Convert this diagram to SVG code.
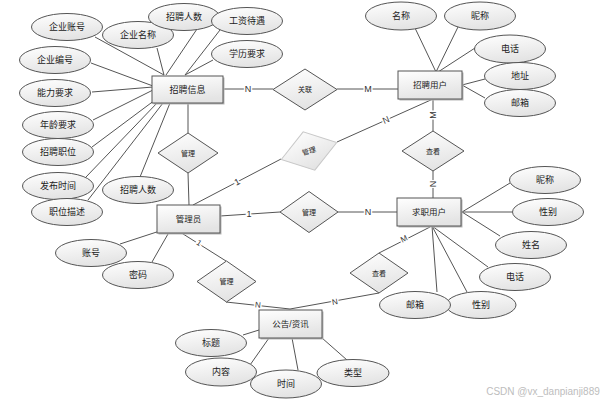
<svg xmlns="http://www.w3.org/2000/svg" width="612" height="402" viewBox="0 0 612 402">
<defs>
<linearGradient id="g" x1="0" y1="0" x2="0.3" y2="1">
<stop offset="0" stop-color="#ffffff"/>
<stop offset="1" stop-color="#e4e4e4"/>
</linearGradient>
<style>
text{font-family:"Liberation Sans","Noto Sans CJK SC",sans-serif;fill:#222;text-anchor:middle;dominant-baseline:central}
.e ellipse{fill:url(#g);stroke:#555;stroke-width:1}
.e text{font-size:9px}
.r rect.b{fill:url(#g);stroke:#555;stroke-width:1}
.r rect.s{fill:#b8b8b8}
.r text{font-size:8.5px}
.d polygon{fill:url(#g);stroke:#555;stroke-width:1}
.d text{font-size:7px}
.lt polygon{stroke:#c8c8c8}
#connectors line{stroke:#555;stroke-width:1}
.lb{font-size:9px;fill:#333;stroke:#fff;stroke-width:3;paint-order:stroke}
</style>
</defs>
<rect width="612" height="402" fill="#fff"/>
<g id="connectors">
<line x1="95" y1="37" x2="164" y2="75"/>
<line x1="157" y1="48" x2="164" y2="75"/>
<line x1="197" y1="29" x2="166" y2="75"/>
<line x1="220" y1="30" x2="185" y2="75"/>
<line x1="213" y1="60" x2="185" y2="75"/>
<line x1="91" y1="63" x2="153" y2="86"/>
<line x1="92" y1="92" x2="153" y2="87"/>
<line x1="93" y1="120" x2="153" y2="90"/>
<line x1="92" y1="147" x2="155" y2="100"/>
<line x1="86" y1="177" x2="158" y2="102"/>
<line x1="88" y1="200" x2="163" y2="103"/>
<line x1="140" y1="177" x2="170" y2="103"/>
<line x1="188" y1="103" x2="188" y2="133"/>
<line x1="188" y1="173" x2="189" y2="205"/>
<line x1="223" y1="89" x2="273" y2="89"/>
<line x1="337" y1="89" x2="398" y2="89"/>
<line x1="415" y1="28" x2="436" y2="72"/>
<line x1="458" y1="27" x2="436" y2="72"/>
<line x1="475" y1="48" x2="438" y2="72"/>
<line x1="485" y1="79" x2="462" y2="85"/>
<line x1="485" y1="98" x2="462" y2="85"/>
<line x1="433" y1="99" x2="433" y2="131"/>
<line x1="433" y1="171" x2="433" y2="198"/>
<line x1="193" y1="205" x2="281" y2="159"/>
<line x1="337" y1="142" x2="433" y2="99"/>
<line x1="220" y1="216" x2="280" y2="212"/>
<line x1="338" y1="212" x2="397" y2="212"/>
<line x1="462" y1="212" x2="510" y2="183"/>
<line x1="462" y1="212" x2="512" y2="212"/>
<line x1="462" y1="212" x2="500" y2="236"/>
<line x1="432" y1="226" x2="488" y2="267"/>
<line x1="432" y1="226" x2="467" y2="292"/>
<line x1="432" y1="226" x2="437" y2="292"/>
<line x1="430" y1="227" x2="379" y2="253"/>
<line x1="379" y1="293" x2="290" y2="309"/>
<line x1="120" y1="244" x2="172" y2="227"/>
<line x1="152" y1="262" x2="172" y2="227"/>
<line x1="172" y1="227" x2="226" y2="261"/>
<line x1="226" y1="302" x2="290" y2="309"/>
<line x1="243" y1="335" x2="259" y2="330"/>
<line x1="250" y1="365" x2="269" y2="338"/>
<line x1="298" y1="370" x2="292" y2="338"/>
<line x1="347" y1="360" x2="322" y2="338"/>
<text class="lb" x="248" y="89">N</text>
<text class="lb" x="368" y="89">M</text>
<text class="lb" transform="translate(433,115) rotate(-90)">M</text>
<text class="lb" transform="translate(433,184) rotate(90)">N</text>
<text class="lb" transform="translate(237,182) rotate(-27)">1</text>
<text class="lb" transform="translate(386,120) rotate(-24)">N</text>
<text class="lb" x="249" y="214">1</text>
<text class="lb" x="368" y="212">N</text>
<text class="lb" transform="translate(404,239) rotate(-27)" style="font-size:8px">M</text>
<text class="lb" transform="translate(335,302) rotate(-10)" style="font-size:8px">N</text>
<text class="lb" transform="translate(199,243) rotate(32)" style="font-size:8px">1</text>
<text class="lb" transform="translate(258,305) rotate(6)" style="font-size:8px">N</text>
</g>
<g id="rel-guanlian" class="d"><polygon points="273,89.5 305,69 337,89.5 305,110"/><text x="305" y="89.5">关联</text></g>
<g id="rel-guanli1" class="d"><polygon points="158,153 188,133 218,153 188,173"/><text x="188" y="153">管理</text></g>
<g id="rel-guanli2" class="d lt" transform="rotate(-17 309 151)"><polygon points="280,151 309,131 338,151 309,171"/><text x="309" y="151">管理</text></g>
<g id="rel-chakan1" class="d"><polygon points="402,151 433,131 464,151 433,171"/><text x="433" y="151">查看</text></g>
<g id="rel-guanli3" class="d"><polygon points="280,212 309,191.5 338,212 309,232.5"/><text x="309" y="212">管理</text></g>
<g id="rel-chakan2" class="d"><polygon points="350,273 379,253 408,273 379,293"/><text x="379" y="273">查看</text></g>
<g id="rel-guanli4" class="d"><polygon points="197,281.5 226.5,261 256,281.5 226.5,302"/><text x="226.5" y="281.5">管理</text></g>
<g id="ent-zhaopinxinxi" class="r"><rect class="s" x="153.5" y="77.5" width="71" height="27"/><rect class="b" x="152" y="76" width="71" height="27"/><text x="187.5" y="89.5" style="font-size:9px">招聘信息</text></g>
<g id="ent-zhaopinyonghu" class="r"><rect class="s" x="399.5" y="72.5" width="64" height="28"/><rect class="b" x="398" y="71" width="64" height="28"/><text x="430" y="85">招聘用户</text></g>
<g id="ent-qiuzhiyonghu" class="r"><rect class="s" x="398.5" y="199.5" width="64" height="28"/><rect class="b" x="397" y="198" width="64" height="28"/><text x="429" y="212">求职用户</text></g>
<g id="ent-guanliyuan" class="r"><rect class="s" x="158.5" y="206.5" width="63" height="28"/><rect class="b" x="157" y="205" width="63" height="28"/><text x="188.5" y="219">管理员</text></g>
<g id="ent-gonggao" class="r"><rect class="s" x="260.5" y="311.5" width="63" height="28"/><rect class="b" x="259" y="310" width="63" height="28"/><text x="290.5" y="324">公告/资讯</text></g>
<g id="a-qiyezhanghao" class="e"><ellipse cx="67" cy="27" rx="35.5" ry="13.5"/><text x="67" y="27">企业账号</text></g>
<g id="a-qiyemingcheng" class="e"><ellipse cx="138" cy="35" rx="35.5" ry="13.5"/><text x="138" y="35">企业名称</text></g>
<g id="a-zhaopinrenshu1" class="e"><ellipse cx="184" cy="17" rx="35.5" ry="13.5"/><text x="184" y="17">招聘人数</text></g>
<g id="a-gongzi" class="e"><ellipse cx="247" cy="21" rx="35.5" ry="13.5"/><text x="247" y="21">工资待遇</text></g>
<g id="a-xueli" class="e"><ellipse cx="247" cy="54" rx="35.5" ry="13.5"/><text x="247" y="54">学历要求</text></g>
<g id="a-qiyebianhao" class="e"><ellipse cx="55" cy="60" rx="35.5" ry="13.5"/><text x="55" y="60">企业编号</text></g>
<g id="a-nengli" class="e"><ellipse cx="55" cy="93" rx="35.5" ry="13.5"/><text x="55" y="93">能力要求</text></g>
<g id="a-nianling" class="e"><ellipse cx="58" cy="125" rx="35.5" ry="13.5"/><text x="58" y="125">年龄要求</text></g>
<g id="a-zhiwei" class="e"><ellipse cx="58" cy="152" rx="35.5" ry="13.5"/><text x="58" y="152">招聘职位</text></g>
<g id="a-fabu" class="e"><ellipse cx="58" cy="186" rx="35.5" ry="13.5"/><text x="58" y="186">发布时间</text></g>
<g id="a-miaoshu" class="e"><ellipse cx="67" cy="212" rx="35.5" ry="13.5"/><text x="67" y="212">职位描述</text></g>
<g id="a-zhaopinrenshu2" class="e"><ellipse cx="138" cy="190" rx="35.5" ry="13.5"/><text x="138" y="190">招聘人数</text></g>
<g id="a-mingcheng" class="e"><ellipse cx="401" cy="16" rx="35.5" ry="14"/><text x="401" y="16">名称</text></g>
<g id="a-nicheng1" class="e"><ellipse cx="480" cy="16" rx="35.5" ry="14"/><text x="480" y="16">昵称</text></g>
<g id="a-dianhua1" class="e"><ellipse cx="510" cy="49" rx="35.5" ry="14"/><text x="510" y="49">电话</text></g>
<g id="a-dizhi" class="e"><ellipse cx="520" cy="76" rx="35.5" ry="13.5"/><text x="520" y="76">地址</text></g>
<g id="a-youxiang1" class="e"><ellipse cx="520" cy="103" rx="35.5" ry="13.5"/><text x="520" y="103">邮箱</text></g>
<g id="a-nicheng2" class="e"><ellipse cx="545" cy="180" rx="35.5" ry="13.5"/><text x="545" y="180">昵称</text></g>
<g id="a-xingbie1" class="e"><ellipse cx="548" cy="212" rx="35.5" ry="13.5"/><text x="548" y="212">性别</text></g>
<g id="a-xingming" class="e"><ellipse cx="531" cy="245" rx="35.5" ry="13.5"/><text x="531" y="245">姓名</text></g>
<g id="a-dianhua2" class="e"><ellipse cx="515" cy="277" rx="35.5" ry="13.5"/><text x="515" y="277">电话</text></g>
<g id="a-xingbie2" class="e"><ellipse cx="481" cy="305" rx="35" ry="13.5"/><text x="481" y="305">性别</text></g>
<g id="a-youxiang2" class="e"><ellipse cx="415" cy="305" rx="35.5" ry="13.5"/><text x="415" y="305">邮箱</text></g>
<g id="a-zhanghao" class="e"><ellipse cx="91" cy="253" rx="35.5" ry="13.5"/><text x="91" y="253">账号</text></g>
<g id="a-mima" class="e"><ellipse cx="138" cy="275" rx="35.5" ry="13.5"/><text x="138" y="275">密码</text></g>
<g id="a-biaoti" class="e"><ellipse cx="211" cy="343" rx="35.5" ry="13.5"/><text x="211" y="343">标题</text></g>
<g id="a-neirong" class="e"><ellipse cx="221" cy="372" rx="35.5" ry="14"/><text x="221" y="372">内容</text></g>
<g id="a-shijian" class="e"><ellipse cx="286" cy="384" rx="35.5" ry="14"/><text x="286" y="384">时间</text></g>
<g id="a-leixing" class="e"><ellipse cx="353" cy="373" rx="36" ry="13.5"/><text x="353" y="373">类型</text></g>
<text x="543" y="391" style="font-size:10px;fill:#bdbdbd">CSDN @vx_danpianji889</text>
</svg>
